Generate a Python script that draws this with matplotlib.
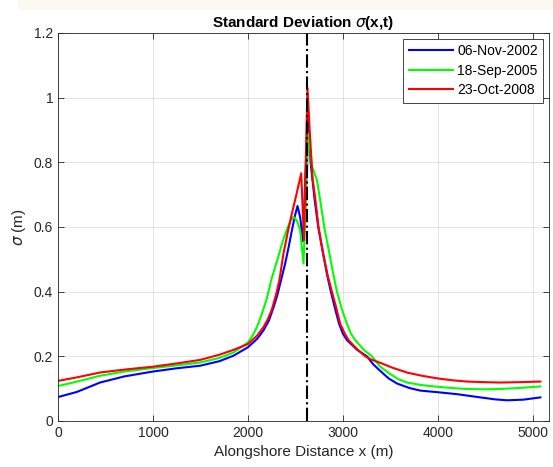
import numpy as np
import matplotlib.pyplot as plt
from matplotlib.patches import Rectangle

plt.rcParams['font.family'] = ['Liberation Sans', 'DejaVu Sans']
plt.rcParams['mathtext.fontset'] = 'dejavusans'

# values
x_blue = [0, 200, 443, 700, 1000, 1250, 1497, 1700, 1848, 2000, 2100, 2163, 2220, 2270, 2310, 2348,
          2392, 2430, 2463, 2495, 2522, 2550, 2580, 2631, 2660, 2700, 2740, 2790, 2835, 2873, 2915,
          2960, 3000, 3043, 3150, 3253, 3320, 3393, 3480, 3569, 3700, 3815, 4000, 4201, 4447, 4600,
          4728, 4900, 5079]
y_blue = [0.074, 0.09, 0.119, 0.138, 0.153, 0.163, 0.171, 0.185, 0.202, 0.228, 0.255, 0.28, 0.31, 0.352,
          0.39, 0.435, 0.487, 0.54, 0.59, 0.635, 0.665, 0.63, 0.556, 0.962, 0.80, 0.69, 0.60, 0.52, 0.45,
          0.40, 0.35, 0.30, 0.27, 0.25, 0.22, 0.20, 0.175, 0.155, 0.132, 0.116, 0.102, 0.094, 0.089,
          0.083, 0.073, 0.067, 0.064, 0.066, 0.073]

x_green = [0, 200, 443, 700, 1000, 1250, 1497, 1700, 1848, 2000, 2050, 2094, 2146, 2200, 2244, 2290,
           2322, 2370, 2420, 2450, 2480, 2515, 2550, 2585, 2638, 2673, 2726, 2761, 2803, 2850, 2895,
           2937, 2990, 3043, 3085, 3130, 3220, 3306, 3393, 3500, 3580, 3674, 3830, 3990, 4150, 4306,
           4500, 4657, 4850, 5079]
y_green = [0.108, 0.122, 0.14, 0.153, 0.164, 0.172, 0.181, 0.195, 0.212, 0.243, 0.265, 0.29, 0.331, 0.38,
           0.435, 0.48, 0.51, 0.56, 0.60, 0.62, 0.631, 0.62, 0.59, 0.487, 0.89, 0.79, 0.745, 0.683, 0.60,
           0.53, 0.46, 0.40, 0.345, 0.30, 0.27, 0.25, 0.22, 0.20, 0.168, 0.145, 0.13, 0.119, 0.111,
           0.106, 0.102, 0.099, 0.098, 0.099, 0.102, 0.107]

x_red = [0, 200, 443, 700, 1000, 1250, 1497, 1700, 1848, 2000, 2100, 2163, 2210, 2252, 2295, 2331,
         2374, 2420, 2463, 2510, 2561, 2590, 2627, 2650, 2680, 2708, 2743, 2790, 2840, 2884, 2930,
         2972, 3020, 3060, 3140, 3235, 3300, 3393, 3520, 3674, 3830, 3990, 4150, 4306, 4500, 4657,
         4850, 5079]
y_red = [0.124, 0.135, 0.150, 0.159, 0.168, 0.178, 0.189, 0.205, 0.22, 0.238, 0.265, 0.29, 0.315, 0.345,
         0.39, 0.435, 0.518, 0.585, 0.642, 0.70, 0.766, 0.56, 1.03, 0.90, 0.75, 0.69, 0.60, 0.52, 0.45,
         0.40, 0.35, 0.30, 0.27, 0.25, 0.225, 0.20, 0.19, 0.18, 0.165, 0.15, 0.14, 0.132, 0.126,
         0.122, 0.12, 0.119, 0.12, 0.122]

labels = ['06-Nov-2002', '18-Sep-2005', '23-Oct-2008']
x_line = 2620

fig = plt.figure(figsize=(5.53, 4.67), dpi=100)
fig.patches.append(Rectangle((18 / 553, 1 - 10 / 467), 1, 10 / 467, transform=fig.transFigure,
                             facecolor='#fafaf0', edgecolor='none', zorder=-1))
ax = fig.add_axes([58 / 553, 1 - 421 / 467, 491 / 553, 388 / 467])

ax.plot(x_blue, y_blue, color=(0, 0, 1), lw=1.5, label=labels[0])
ax.plot(x_green, y_green, color=(0, 1, 0), lw=1.5, label=labels[1])
ax.plot(x_red, y_red, color=(1, 0, 0), lw=1.5, label=labels[2])
ax.plot([x_line, x_line], [0, 1.2], color='k', lw=1.5, ls='-.')

ax.set_xlim(0, 5170)
ax.set_ylim(0, 1.2)
ax.set_xticks([0, 1000, 2000, 3000, 4000, 5000])
ax.set_yticks([0, 0.2, 0.4, 0.6, 0.8, 1.0, 1.2])
ax.set_yticklabels(['0', '0.2', '0.4', '0.6', '0.8', '1', '1.2'])
ax.grid(True, color=(0.15, 0.15, 0.15), alpha=0.15, lw=0.6)
ax.tick_params(direction='in', top=True, right=True, labelsize=10, colors=(0.15, 0.15, 0.15),
               length=4, width=0.6)
for s in ax.spines.values():
    s.set_color((0.15, 0.15, 0.15))
    s.set_linewidth(0.6)

ax.set_xlabel('Alongshore Distance x (m)', fontsize=11, color=(0.15, 0.15, 0.15))
ax.set_ylabel(r'$\sigma$ (m)', fontsize=11, color=(0.15, 0.15, 0.15))
ax.set_title(r'Standard Deviation $\sigma$(x,t)', fontsize=11, fontweight='bold', pad=4)

leg = ax.legend(loc='upper right', fontsize=10, fancybox=False, edgecolor=(0.15, 0.15, 0.15),
                framealpha=1, handlelength=3.2, handletextpad=0.3, borderaxespad=0.4,
                labelspacing=0.4)
leg.get_frame().set_linewidth(0.6)

fig.savefig('out.png', dpi=100)
